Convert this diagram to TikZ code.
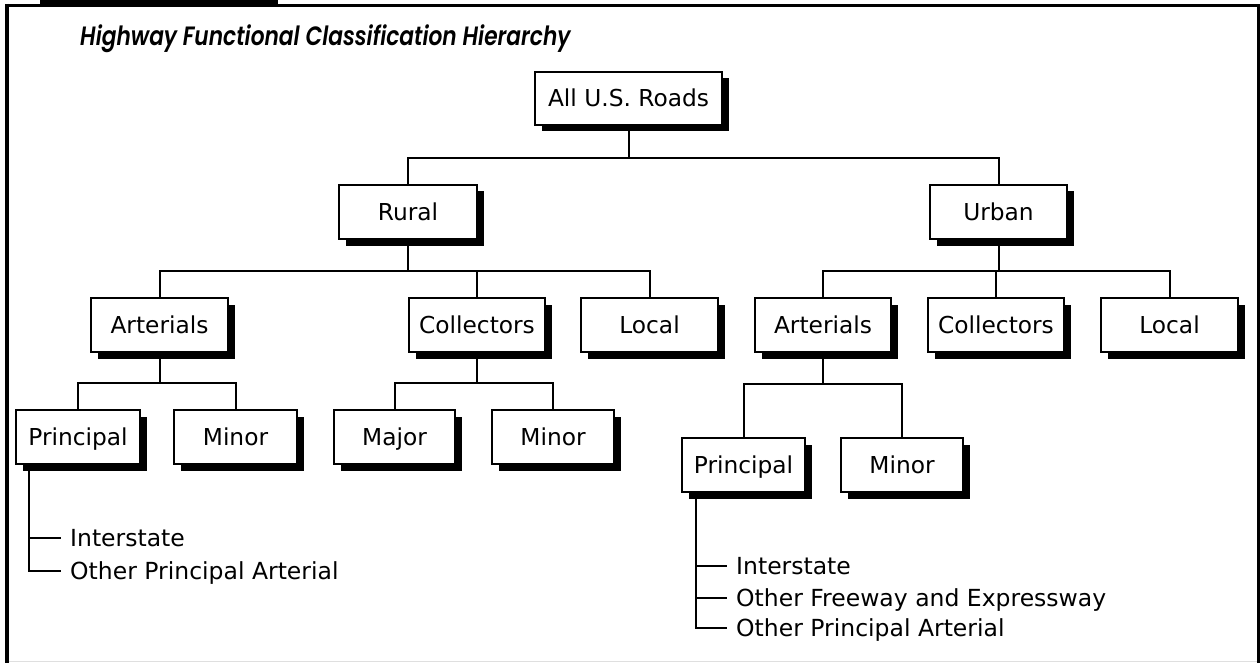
\documentclass[tikz,border=0pt]{standalone}
\usepackage{fontspec}
\setmainfont{DejaVu Sans}
\newfontfamily\titlefont{Poppins SemiBold Italic}
\tikzset{
  box/.style={draw, line width=2pt, fill=white, inner sep=0pt,
    text height=17pt, text depth=0pt, font=\fontsize{23.3}{27}\selectfont},
  conn/.style={line width=2pt},
  item/.style={inner sep=0pt, anchor=west, text height=17pt, text depth=0pt,
    font=\fontsize{23.5}{27}\selectfont},
  frame/.style={line width=3pt},
}
\newcommand\bx[6]{%
  \fill (#2+6.5,#3+6.5) rectangle (#4+6.5,#5+6.5);
  \node[box, minimum width={#4-#2}, minimum height={#5-#3}] (#1) at ({(#2+#4)/2},{(#3+#5)/2}) {#6};
}
\begin{document}
\begin{tikzpicture}[x=1pt,y=-1pt]
\useasboundingbox (0,0) rectangle (1260,663);
% frame
\fill (40,0) rectangle (278,7);
\draw[gray!25, line width=1pt] (9,661.5) -- (1257,661.5);
\draw[line width=4pt] (7,4) -- (7,663);
\draw[frame] (5,5.5) -- (1258.5,5.5) -- (1258.5,663);
% title
\node[anchor=base west, inner sep=0pt, font=\titlefont\fontsize{26.5}{30}\selectfont] (title) at (80,45.5) {\scalebox{0.82}[1]{Highway Functional Classification Hierarchy}};
% boxes
\bx{all}{535}{72}{722}{125}{All U.S. Roads}
\bx{rural}{339}{185}{477}{239}{Rural}
\bx{urban}{930}{185}{1067}{239}{Urban}
\bx{rarts}{91}{298}{228}{352}{Arterials}
\bx{rcoll}{409}{298}{545}{352}{Collectors}
\bx{rloc}{581}{298}{718}{352}{Local}
\bx{uarts}{755}{298}{891}{352}{Arterials}
\bx{ucoll}{928}{298}{1064}{352}{Collectors}
\bx{uloc}{1101}{298}{1238}{352}{Local}
\bx{rprin}{16}{410}{140}{464}{Principal}
\bx{rminA}{174}{410}{297}{464}{Minor}
\bx{rmaj}{334}{410}{455}{464}{Major}
\bx{rminC}{492}{410}{614}{464}{Minor}
\bx{uprin}{682}{438}{805}{492}{Principal}
\bx{uminA}{841}{438}{963}{492}{Minor}
% connectors level 0-1
\draw[conn] (all.south) -- (all.south |- 0,158);
\draw[conn] (rural.north) |- (urban.north |- 0,158) -- (urban.north);
% level 1-2 rural
\draw[conn] (rural.south) -- (rural.south |- 0,271);
\draw[conn] (rarts.north) |- (rloc.north |- 0,271) -- (rloc.north);
\draw[conn] (rcoll.north) -- (rcoll.north |- 0,271);
% level 1-2 urban
\draw[conn] (urban.south) -- (urban.south |- 0,271);
\draw[conn] (uarts.north) |- (uloc.north |- 0,271) -- (uloc.north);
\draw[conn] (ucoll.north) -- (ucoll.north |- 0,271);
% level 2-3
\draw[conn] (rarts.south) -- (rarts.south |- 0,383);
\draw[conn] (rprin.north) |- (rminA.north |- 0,383) -- (rminA.north);
\draw[conn] (rcoll.south) -- (rcoll.south |- 0,383);
\draw[conn] (rmaj.north) |- (rminC.north |- 0,383) -- (rminC.north);
\draw[conn] (uarts.south) -- (uarts.south |- 0,384);
\draw[conn] (uprin.north) |- (uminA.north |- 0,384) -- (uminA.north);
% rural list
\node[item] (ri1) at (70,538) {Interstate};
\node[item] (ri2) at (70,571) {Other Principal Arterial};
\coordinate (rv) at ([xshift=14pt]rprin.south west);
\draw[conn] (rv) |- ([xshift=-9pt]ri1.west);
\draw[conn] (rv) |- ([xshift=-9pt]ri2.west);
% urban list
\node[item] (ui1) at (736,566) {Interstate};
\node[item] (ui2) at (736,598) {Other Freeway and Expressway};
\node[item] (ui3) at (736,628) {Other Principal Arterial};
\coordinate (uv) at ([xshift=15pt]uprin.south west);
\draw[conn] (uv) |- ([xshift=-9pt]ui1.west);
\draw[conn] (uv) |- ([xshift=-9pt]ui2.west);
\draw[conn] (uv) |- ([xshift=-9pt]ui3.west);
\end{tikzpicture}
\end{document}
